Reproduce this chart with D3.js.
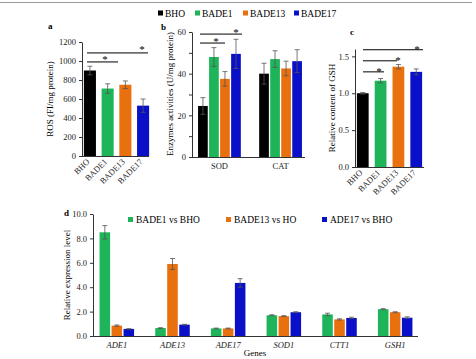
<!DOCTYPE html>
<html>
<head>
<meta charset="utf-8">
<script src="https://d3js.org/d3.v7.min.js"></script>
<style>
body { margin: 0; background: #fff; }
svg text { font-family: "Liberation Serif", "Times New Roman", serif; }
.axis path, .axis line { stroke: #333; }
.axis text { font-size: 8.5px; fill: #222; font-family: "Liberation Serif", serif; }
</style>
</head>
<body>
<div id="chart"></div>
<script>
// strains
let strains = ["BHO", "BADE1", "BADE13", "BADE17"];
let colors = ["#000000", "#1db45a", "#e8700f", "#0a0fc8"];

// a: ROS
let rosVal = [900, 710, 750, 530];
let rosErr = [45, 50, 40, 70];

// b: enzymes
let enzymes = ["SOD", "CAT"];
let enzVal = [[24.5, 48, 37.5, 49.5], [40, 47, 42.5, 46]];
let enzErr = [[4, 4.5, 3.5, 7], [5, 4, 3.5, 5.5]];

// c: GSH
let gshVal = [1.0, 1.17, 1.36, 1.29];
let gshErr = [0.01, 0.03, 0.03, 0.04];

// d: gene expression
let genes = ["ADE1", "ADE13", "ADE17", "SOD1", "CTT1", "GSH1"];
let comps = ["BADE1 vs BHO", "BADE13 vs HO", "ADE17 vs BHO"];
let exprVal = [[8.5, 0.85, 0.58], [0.65, 5.9, 0.93], [0.62, 0.62, 4.35],
               [1.7, 1.63, 1.95], [1.77, 1.36, 1.48], [2.2, 1.95, 1.5]];
let exprErr = [[0.55, 0.05, 0.02], [0.03, 0.45, 0.03], [0.03, 0.03, 0.35],
               [0.04, 0.04, 0.04], [0.1, 0.05, 0.06], [0.04, 0.04, 0.07]];

let svg = d3.select("#chart").append("svg").attr("width", 476).attr("height", 359)
    .attr("font-family", "Liberation Serif, serif");

svg.append("line").attr("x1", 0).attr("x2", 472).attr("y1", 2.5).attr("y2", 2.5)
   .attr("stroke", "#999").attr("stroke-width", 1.2);

// top legend
let legX = [158, 195, 243, 294];
strains.forEach((s, i) => {
    svg.append("rect").attr("x", legX[i]).attr("y", 10.5).attr("width", 5).attr("height", 5).attr("fill", colors[i]);
    svg.append("text").attr("x", legX[i] + 7).attr("y", 16.5).attr("font-size", "9.5px").text(s);
});

function errBar(g, x, y1, y2, w) {
    g.append("line").attr("x1", x).attr("x2", x).attr("y1", y1).attr("y2", y2).attr("stroke", "#555").attr("stroke-width", 0.8);
    g.append("line").attr("x1", x - w).attr("x2", x + w).attr("y1", y1).attr("y2", y1).attr("stroke", "#555").attr("stroke-width", 0.8);
    g.append("line").attr("x1", x - w).attr("x2", x + w).attr("y1", y2).attr("y2", y2).attr("stroke", "#555").attr("stroke-width", 0.8);
}

function sig(g, x1, x2, y, sx, sy) {
    g.append("line").attr("x1", x1).attr("x2", x2).attr("y1", y).attr("y2", y).attr("stroke", "#000").attr("stroke-width", 1);
    g.append("text").attr("x", sx).attr("y", sy).attr("font-size", "11px").attr("fill", "#000")
     .attr("text-anchor", "middle").text("*");
}

function yLabel(x, y, txt, size) {
    svg.append("text").attr("transform", "translate(" + x + "," + y + ") rotate(-90)")
       .attr("text-anchor", "middle").attr("font-size", size || "9px").text(txt);
}

// ---- panel a
{
    let g = svg.append("g");
    let x = d3.scaleBand().domain(strains).range([83, 150]).paddingInner(0.32).paddingOuter(0.05);
    let y = d3.scaleLinear().domain([0, 1200]).range([156, 42]);
    g.append("g").attr("class", "axis").attr("transform", "translate(82,0)")
     .call(d3.axisLeft(y).ticks(6).tickSize(3).tickSizeOuter(0).tickFormat(d3.format("d")));
    g.append("g").attr("class", "axis x").attr("transform", "translate(0,156)")
     .call(d3.axisBottom(x).tickSize(0).tickSizeOuter(0));
    g.select(".axis.x").select("path").attr("d", "M82,0.5H149");
    g.select(".axis.x").selectAll("text").attr("transform", "translate(-4,2) rotate(-45)")
     .style("text-anchor", "end").attr("dy", "0.35em").attr("font-size", "8.5px");
    strains.forEach((s, i) => {
        g.append("rect").attr("x", x(s)).attr("y", y(rosVal[i])).attr("width", x.bandwidth())
         .attr("height", 156 - y(rosVal[i])).attr("fill", colors[i]);
        errBar(g, x(s) + x.bandwidth() / 2, y(rosVal[i] + rosErr[i]), y(rosVal[i] - rosErr[i]), 2.5);
    });
    sig(g, 87, 118, y(990), 105, 63);
    sig(g, 87, 148, y(1085), 142, 53);
    svg.append("text").attr("x", 48).attr("y", 29).attr("font-size", "9px").attr("font-weight", "bold").text("a");
    yLabel(53, 99, "ROS (FI/mg protein)");
}

// ---- panel b
{
    let g = svg.append("g");
    let x0 = d3.scaleBand().domain(enzymes).range([195, 305]).paddingInner(0.3).paddingOuter(0.05);
    let x1 = d3.scaleBand().domain(strains).range([0, x0.bandwidth()]).paddingInner(0.12);
    let y = d3.scaleLinear().domain([0, 60]).range([157, 32]);
    let ax = d3.axisLeft(y).tickValues(d3.range(0, 61, 10)).tickSize(3).tickSizeOuter(0)
               .tickFormat(d => d % 20 === 0 ? d : "");
    g.append("g").attr("class", "axis").attr("transform", "translate(192,0)").call(ax);
    g.append("g").attr("class", "axis x").attr("transform", "translate(0,157)")
     .call(d3.axisBottom(x0).tickSize(0).tickSizeOuter(0));
    g.select(".axis.x").select("path").attr("d", "M192,0.5H305");
    g.select(".axis.x").selectAll("text").attr("font-size", "9px").attr("dy", "1.1em");
    enzymes.forEach((e, j) => {
        strains.forEach((s, i) => {
            let bx = x0(e) + x1(s);
            g.append("rect").attr("x", bx).attr("y", y(enzVal[j][i])).attr("width", x1.bandwidth())
             .attr("height", 157 - y(enzVal[j][i])).attr("fill", colors[i]);
            errBar(g, bx + x1.bandwidth() / 2, y(enzVal[j][i] + enzErr[j][i]), y(enzVal[j][i] - enzErr[j][i]), 2.5);
        });
    });
    sig(g, 200, 225, y(54.7), 216, 45);
    sig(g, 200, 242, y(59), 236, 36);
    svg.append("text").attr("x", 161).attr("y", 30).attr("font-size", "9px").attr("font-weight", "bold").text("b");
    yLabel(173, 94, "Enzymes activities (U/mg protein)");
}

// ---- panel c
{
    let g = svg.append("g");
    let x = d3.scaleBand().domain(strains).range([356, 423]).paddingInner(0.34).paddingOuter(0.05);
    let y = d3.scaleLinear().domain([0, 1.6]).range([167, 49]);
    g.append("g").attr("class", "axis").attr("transform", "translate(355,0)")
     .call(d3.axisLeft(y).ticks(4).tickSize(3).tickSizeOuter(0).tickFormat(d3.format(".1f")));
    g.append("g").attr("class", "axis x").attr("transform", "translate(0,167)")
     .call(d3.axisBottom(x).tickSize(0).tickSizeOuter(0));
    g.select(".axis.x").select("path").attr("d", "M355,0.5H424");
    g.select(".axis.x").selectAll("text").attr("transform", "translate(-4,2) rotate(-45)")
     .style("text-anchor", "end").attr("dy", "0.35em").attr("font-size", "8.5px");
    strains.forEach((s, i) => {
        g.append("rect").attr("x", x(s)).attr("y", y(gshVal[i])).attr("width", x.bandwidth())
         .attr("height", 167 - y(gshVal[i])).attr("fill", colors[i]);
        errBar(g, x(s) + x.bandwidth() / 2, y(gshVal[i] + gshErr[i]), y(gshVal[i] - gshErr[i]), 2.5);
    });
    sig(g, 363, 384, y(1.29), 379, 75);
    sig(g, 363, 397, y(1.44), 398, 64);
    sig(g, 363, 423, y(1.59), 417, 53);
    svg.append("text").attr("x", 350).attr("y", 35).attr("font-size", "9px").attr("font-weight", "bold").text("c");
    yLabel(335, 108, "Relative content of GSH");
}

// ---- panel d
{
    let g = svg.append("g");
    let x0 = d3.scaleBand().domain(genes).range([94, 418]).paddingInner(0.38).paddingOuter(0.1);
    let x1 = d3.scaleBand().domain(comps).range([0, x0.bandwidth()]).paddingInner(0.12);
    let y = d3.scaleLinear().domain([0, 10]).range([336, 214]);
    g.append("g").attr("class", "axis").attr("transform", "translate(93,0)")
     .call(d3.axisLeft(y).ticks(5).tickSize(3).tickSizeOuter(0).tickFormat(d3.format(".1f")));
    g.append("g").attr("class", "axis x").attr("transform", "translate(0,336)")
     .call(d3.axisBottom(x0).tickSize(0).tickSizeOuter(0));
    g.select(".axis.x").select("path").attr("d", "M93,0.5H418");
    g.select(".axis.x").selectAll("text").attr("font-size", "8.5px").attr("font-style", "italic").attr("dy", "1.1em");
    genes.forEach((ge, j) => {
        comps.forEach((c, i) => {
            let bx = x0(ge) + x1(c);
            g.append("rect").attr("x", bx).attr("y", y(exprVal[j][i])).attr("width", x1.bandwidth())
             .attr("height", 336 - y(exprVal[j][i])).attr("fill", colors[i + 1]);
            errBar(g, bx + x1.bandwidth() / 2, y(exprVal[j][i] + exprErr[j][i]), y(exprVal[j][i] - exprErr[j][i]), 2.5);
        });
    });
    let lx = [128, 226, 322];
    comps.forEach((c, i) => {
        svg.append("rect").attr("x", lx[i]).attr("y", 217).attr("width", 5).attr("height", 5).attr("fill", colors[i + 1]);
        svg.append("text").attr("x", lx[i] + 8).attr("y", 223).attr("font-size", "9.5px").text(c);
    });
    svg.append("text").attr("x", 255).attr("y", 356).attr("text-anchor", "middle").attr("font-size", "9px").text("Genes");
    svg.append("text").attr("x", 64).attr("y", 216).attr("font-size", "9px").attr("font-weight", "bold").text("d");
    yLabel(70, 275, "Relative expression level");
}
</script>
</body>
</html>
